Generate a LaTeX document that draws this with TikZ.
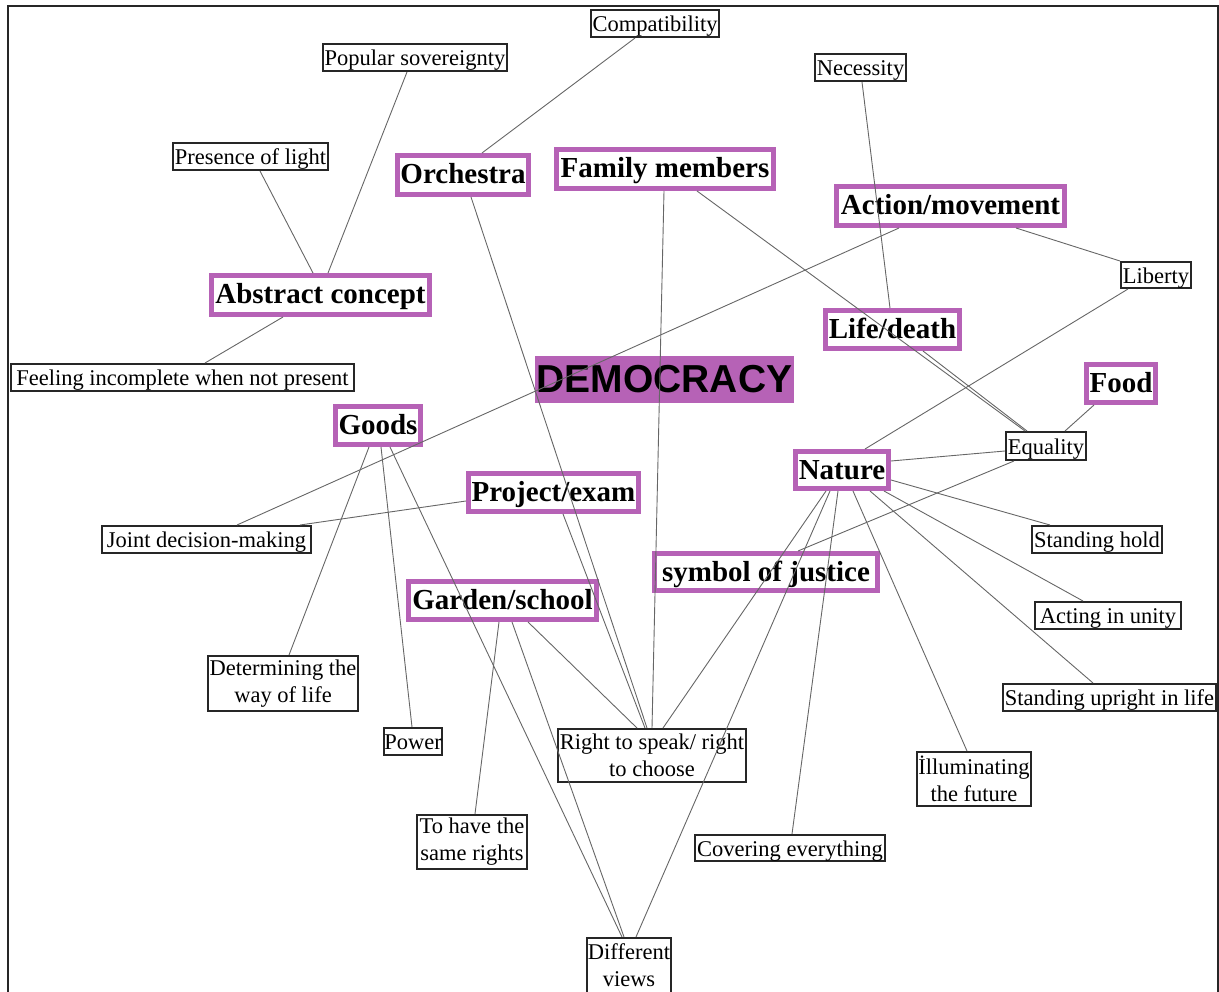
\documentclass[tikz,border=0pt]{standalone}
\usepackage{fontspec}
\setmainfont{Liberation Serif}
\newfontfamily\demfont{Liberation Sans}
\definecolor{purp}{RGB}{182,98,182}
\tikzset{
  leaf/.style={draw=black!85, line width=1.8pt, inner sep=0pt, align=center, font=\fontsize{22.5}{26.8}\selectfont},
  leafone/.style={leaf, text height=17.5pt, text depth=1pt},
  lsz/.style n args={2}{minimum width=#1pt-1.8pt, minimum height=#2pt-1.8pt},
  cat/.style={draw=purp, line width=5pt, inner sep=0pt, text height=21pt, text depth=3pt, font=\bfseries\fontsize{29}{33}\selectfont},
  csz/.style n args={2}{minimum width=#1pt-5pt, minimum height=#2pt-5pt},
  dem/.style={fill=purp, draw=purp, line width=1pt, inner sep=0pt, font=\demfont\bfseries\fontsize{39}{44}\selectfont},
  link/.style={draw=black!60, line width=0.9pt},
  frame/.style={draw=black!85, line width=1.6pt}
}
\begin{document}
\begin{tikzpicture}[x=1pt,y=-1pt]
\useasboundingbox (0,0) rectangle (1219,992);
\coordinate (fbl) at (8,992);
\coordinate (ftl) at (8,6);
\coordinate (ftr) at (1218,6);
\coordinate (fbr) at (1218,992);
\draw[frame] (fbl) -- (ftl) -- (ftr) -- (fbr);

% leaf nodes
\node[leafone, lsz={130}{29}] (compat) at (655,23.5) {Compatibility};
\node[leafone, lsz={186}{29}] (popsov) at (415,57.5) {Popular sovereignty};
\node[leafone, lsz={93}{29}] (necess) at (860.5,67.5) {Necessity};
\node[leafone, lsz={157}{29}] (presence) at (250.5,156.5) {Presence of light};
\node[leafone, lsz={72}{28}] (liberty) at (1156,275) {Liberty};
\node[leafone, lsz={345}{29}] (feeling) at (182.5,377.5) {Feeling incomplete when not present};
\node[leafone, lsz={82}{30}] (equality) at (1046,446) {Equality};
\node[leafone, lsz={211}{29}] (joint) at (206.5,539.5) {Joint decision-making};
\node[leafone, lsz={132}{29}] (standhold) at (1097,539.5) {Standing hold};
\node[leafone, lsz={148}{29}] (acting) at (1108,615.5) {Acting in unity};
\node[leaf, lsz={152}{57}] (determ) at (283,683.5) {Determining the\\way of life};
\node[leafone, lsz={215}{29}] (upright) at (1109.5,697.5) {Standing upright in life};
\node[leafone, lsz={60}{29}] (power) at (413,741.5) {Power};
\node[leaf, lsz={190}{55}] (right) at (652,755.5) {Right to speak/ right\\to choose};
\node[leaf, lsz={112}{56}] (same) at (472,842) {To have the\\same rights};
\node[leafone, lsz={192}{28}] (covering) at (790,848) {Covering everything};
\node[leaf, lsz={116}{56}] (illum) at (974,779) {İlluminating\\the future};
\node[leaf, lsz={86}{57}] (diff) at (629,965.5) {Different\\views};

% category nodes
\node[cat, csz={136}{44}] (orch) at (463,175) {Orchestra};
\node[cat, csz={222}{44}] (family) at (665,169) {Family members};
\node[cat, csz={233}{44}] (action) at (950.5,206) {Action/movement};
\node[cat, csz={223}{44}] (abstract) at (320.5,295) {Abstract concept};
\node[cat, csz={139}{43}] (life) at (892.5,329.5) {Life/death};
\node[cat, csz={74}{43}] (food) at (1121,383.5) {Food};
\node[cat, csz={90}{43}] (goods) at (378,425.5) {Goods};
\node[cat, csz={98}{42}] (nature) at (842,470) {Nature};
\node[cat, csz={175}{43}] (project) at (553.5,492.5) {Project/exam};
\node[cat, csz={228}{42}] (justice) at (766,572) {symbol of justice};
\node[cat, csz={193}{43}] (garden) at (502.5,600.5) {Garden/school};
\node[dem, minimum width=258pt, minimum height=46pt] (demo) at (664.5,379.5) {DEMOCRACY};

% connectors
\draw[link] ([xshift=-20pt]compat.south) -- ([xshift=19pt]orch.north);
\draw[link] ([xshift=-8pt]popsov.south) -- ([xshift=7.5pt]abstract.north);
\draw[link] ([xshift=9.5pt]presence.south) -- ([xshift=-7.5pt]abstract.north);
\draw[link] ([xshift=-37.5pt]abstract.south) -- ([xshift=22.5pt]feeling.north);
\draw[link] ([xshift=8pt]orch.south) -- ([xshift=-5pt]right.north);
\draw[link] ([xshift=-1pt]family.south) -- (right.north);
\draw[link] ([xshift=32pt]family.south) -- ([xshift=-21pt]equality.north);
\draw[link] ([xshift=30.5pt]life.south) -- ([xshift=-19pt]equality.north);
\draw[link] ([xshift=1.5pt]necess.south) -- ([xshift=-2.5pt]life.north);
\draw[link] ([xshift=-51.5pt]action.south) -- ([xshift=30.5pt]joint.north);
\draw[link] ([xshift=65.5pt]action.south) -- (liberty.north west);
\draw[link] ([xshift=-28pt]liberty.south) -- ([xshift=23pt]nature.north);
\draw[link] ([xshift=-27pt]food.south) -- ([xshift=19pt]equality.north);
\draw[link] ([yshift=9pt]nature.east) -- ([yshift=-5pt]equality.west);
\draw[link] ([xshift=-32pt]equality.south) -- ([xshift=32pt]justice.north);
\draw[link] ([yshift=-10pt]nature.east) -- ([xshift=-47pt]standhold.north);
\draw[link] ([xshift=42pt]nature.south) -- ([xshift=-25pt]acting.north);
\draw[link] ([xshift=28pt]nature.south) -- ([xshift=-16.5pt]upright.north);
\draw[link] ([xshift=11pt]nature.south) -- ([xshift=-7pt]illum.north);
\draw[link] ([xshift=-4pt]nature.south) -- ([xshift=2pt]covering.north);
\draw[link] ([xshift=-12pt]nature.south) -- ([xshift=7pt]diff.north);
\draw[link] ([xshift=-16pt]nature.south) -- ([xshift=11pt]right.north);
\draw[link] ([xshift=-9pt]goods.south) -- ([xshift=6pt]determ.north);
\draw[link] ([xshift=3pt]goods.south) -- ([xshift=-1pt]power.north);
\draw[link] ([xshift=12pt]goods.south) -- ([xshift=-7pt]diff.north);
\draw[link] ([yshift=-8.5pt]project.west) -- ([xshift=93.5pt]joint.north);
\draw[link] ([xshift=9.5pt]project.south) -- ([xshift=-7pt]right.north);
\draw[link] ([xshift=25.5pt]garden.south) -- ([xshift=-15pt]right.north);
\draw[link] ([xshift=9.5pt]garden.south) -- ([xshift=-5pt]diff.north);
\draw[link] ([xshift=-3.5pt]garden.south) -- ([xshift=3pt]same.north);
\end{tikzpicture}
\end{document}
